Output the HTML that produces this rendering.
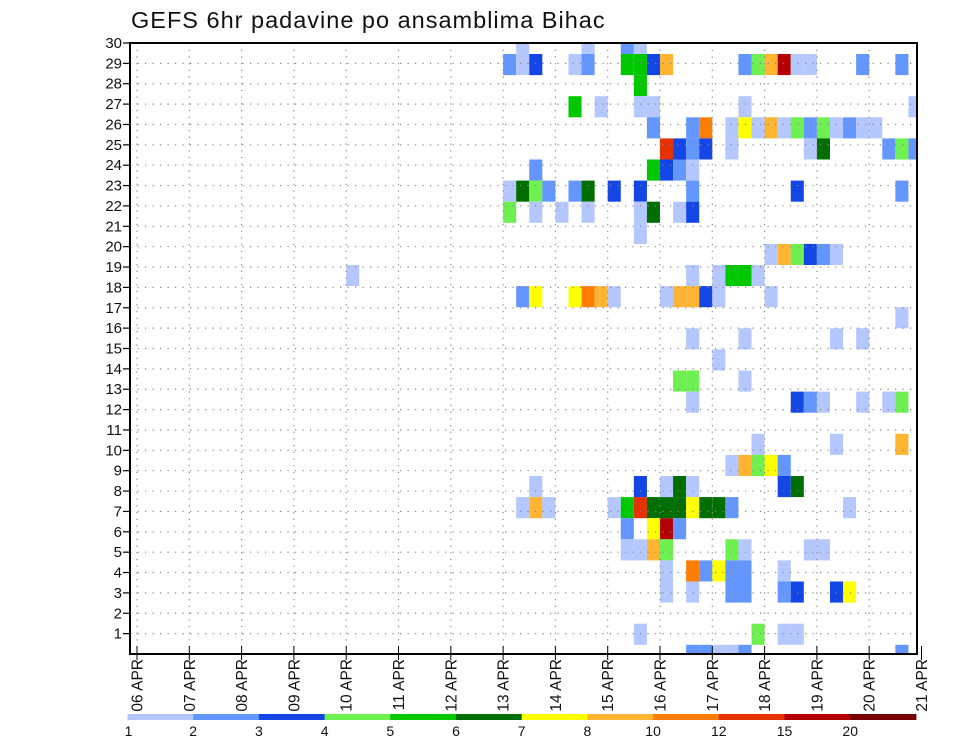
<!DOCTYPE html>
<html><head><meta charset="utf-8"><style>
html,body{margin:0;padding:0;background:#fff;}
svg{display:block;font-family:"Liberation Sans",sans-serif;}
</style></head><body>
<svg id="chart" width="960" height="742" viewBox="0 0 960 742" xmlns="http://www.w3.org/2000/svg">
<rect x="0" y="0" width="960" height="742" fill="#fff"/>
<text x="131" y="28" font-size="23.5" fill="#111" letter-spacing="1">GEFS 6hr padavine po ansamblima Bihac</text>
<g id="cells"></g>
<g id="grid"></g>
<g id="axes"></g>
<g id="legend"></g>
</svg>
<script>
// data: time-step index (6hr steps from 06 APR 00Z), row index from top, precip (mm)
const cellTime = [];
const cellRow = [];
const cellValue = [];
const dayLabels = ["06 APR","07 APR","08 APR","09 APR","10 APR","11 APR","12 APR","13 APR","14 APR","15 APR","16 APR","17 APR","18 APR","19 APR","20 APR","21 APR"];
const yTicks = [1,2,3,4,5,6,7,8,9,10,11,12,13,14,15,16,17,18,19,20,21,22,23,24,25,26,27,28,29,30];
const levels = [1,2,3,4,5,6,7,8,10,12,15,20];
const levelColors = ["#b4c8ff","#6496ff","#1446e6","#6ef050","#00c800","#006e00","#ffff00","#ffb432","#ff7d00","#e63200","#b40000","#780000"];
const rowData = [
"0:29:1.5,34:1.5,37:2.5,38:1.5",
"1:28:2.5,29:1.5,30:3.5,33:1.5,34:2.5,37:5.5,38:5.5,39:3.5,40:9,46:2.5,47:4.5,48:9,49:17,50:1.5,51:1.5,55:2.5,58:2.5",
"2:38:5.5",
"3:33:5.5,35:1.5,38:1.5,39:1.5,46:1.5,59:1.5",
"4:39:2.5,42:2.5,43:11,45:1.5,46:7.5,47:1.5,48:9,49:1.5,50:4.5,51:2.5,52:4.5,53:1.5,54:2.5,55:1.5,56:1.5",
"5:40:13,41:3.5,42:2.5,43:3.5,45:1.5,51:1.5,52:6.5,57:2.5,58:4.5,59:2.5",
"6:30:2.5,39:5.5,40:3.5,41:2.5,42:1.5",
"7:28:1.5,29:6.5,30:4.5,31:2.5,33:2.5,34:6.5,36:3.5,38:3.5,42:2.5,50:3.5,58:2.5",
"8:28:4.5,30:1.5,32:1.5,34:1.5,38:1.5,39:6.5,41:1.5,42:3.5",
"9:38:1.5",
"10:48:1.5,49:9,50:4.5,51:3.5,52:2.5,53:1.5",
"11:16:1.5,42:1.5,44:1.5,45:5.5,46:5.5,47:1.5",
"12:29:2.5,30:7.5,33:7.5,34:11,35:9,36:1.5,40:1.5,41:9,42:9,43:3.5,44:1.5,48:1.5",
"13:58:1.5",
"14:42:1.5,46:1.5,53:1.5,55:1.5",
"15:44:1.5",
"16:41:4.5,42:4.5,46:1.5",
"17:42:1.5,50:3.5,51:2.5,52:1.5,55:1.5,57:1.5,58:4.5",
"19:47:1.5,53:1.5,58:9",
"20:45:1.5,46:9,47:4.5,48:7.5,49:2.5",
"21:30:1.5,38:3.5,40:1.5,41:6.5,42:1.5,49:3.5,50:6.5",
"22:29:1.5,30:9,31:1.5,36:1.5,37:5.5,38:13,39:6.5,40:6.5,41:6.5,42:7.5,43:6.5,44:6.5,45:2.5,54:1.5",
"23:37:2.5,39:7.5,40:17,41:2.5",
"24:37:1.5,38:1.5,39:9,40:4.5,45:4.5,46:1.5,51:1.5,52:1.5",
"25:40:1.5,42:11,43:2.5,44:7.5,45:2.5,46:2.5,49:1.5",
"26:40:1.5,42:1.5,45:2.5,46:2.5,49:2.5,50:3.5,53:3.5,54:7.5",
"28:38:1.5,47:4.5,49:1.5,50:1.5",
"29:42:2.5,43:2.5,44:1.5,45:1.5,46:2.5,58:2.5"
];
rowData.forEach(s=>{const p=s.split(":");const r=+p[0];p.slice(1).join(":").split(",").forEach(e=>{const q=e.split(":");cellRow.push(r);cellTime.push(+q[0]);cellValue.push(+q[1]);});});

const NS="http://www.w3.org/2000/svg";
const L=130,R=917,T=43,B=654;
const X0=137,DAY=52.3,STEP=DAY/4;
const xScale=t=>X0+t*STEP;
const rowTop=j=>54+21.1*(j-1);
const ROWH=21.1;
const yVal=v=>B-(B-T)*v/30;
function colorFor(v){let c=null;for(let i=0;i<levels.length;i++){if(v>=levels[i])c=levelColors[i];}return c;}
function mk(tag,attrs,parent){const e=document.createElementNS(NS,tag);for(const k in attrs)e.setAttribute(k,attrs[k]);parent.appendChild(e);return e;}

const cells=document.getElementById('cells');
for(let i=0;i<cellTime.length;i++){
  const col=colorFor(cellValue[i]);if(!col)continue;
  let x=xScale(cellTime[i]),x2=x+STEP,y=rowTop(cellRow[i]),y2=y+ROWH;
  x=Math.max(x,L);x2=Math.min(x2,R);y=Math.max(y,T);y2=Math.min(y2,B);
  const r=mk('rect',{x:x,y:y,width:x2-x,height:y2-y,fill:col},cells);
  
  
}

const grid=document.getElementById('grid');
for(let v=1;v<30;v++){
  const l=mk('line',{x1:L,x2:R,y1:yVal(v),y2:yVal(v),stroke:'#888','stroke-width':1.2,'stroke-dasharray':'1.2,6.3'},grid);
  
  
}
for(let d=0;d<15;d++){
  const x=X0+d*DAY;
  const l=mk('line',{x1:x,x2:x,y1:T,y2:B,stroke:'#888','stroke-width':1.2,'stroke-dasharray':'1.2,5.5'},grid);
  
  
}

const axes=document.getElementById('axes');
const frame=mk('rect',{x:L,y:T,width:R-L,height:B-T,fill:'none',stroke:'#000','stroke-width':2},axes);


yTicks.forEach(v=>{
  const y=yVal(v);
  mk('line',{x1:L-7,x2:L,y1:y,y2:y,stroke:'#000','stroke-width':1.2},axes);
  const t=mk('text',{x:L-8,y:y+5,'font-size':15,'text-anchor':'end',fill:'#111'},axes);
  t.textContent=v;
  
  
});
dayLabels.forEach((lab,d)=>{
  const x=X0+d*DAY;
  mk('line',{x1:x,x2:x,y1:B-8,y2:B+6,stroke:'#000','stroke-width':1},axes);
  const t=mk('text',{x:0,y:0,'font-size':15.5,'text-anchor':'end',fill:'#111',transform:`translate(${x+5.5},${B+5}) rotate(-90)`},axes);
  t.textContent=lab;
  
  
});

const leg=document.getElementById('legend');
const LX=127.5,LW=65.7;
levels.forEach((lv,i)=>{
  const r=mk('rect',{x:LX+i*LW,y:714,width:LW+0.5,height:6,fill:levelColors[i]},leg);
  
  
  const t=mk('text',{x:LX+i*LW+(i==0?1:0),y:736,'font-size':14,'text-anchor':'middle',fill:'#111'},leg);
  t.textContent=lv;
  
  
});
</script>
</body></html>
